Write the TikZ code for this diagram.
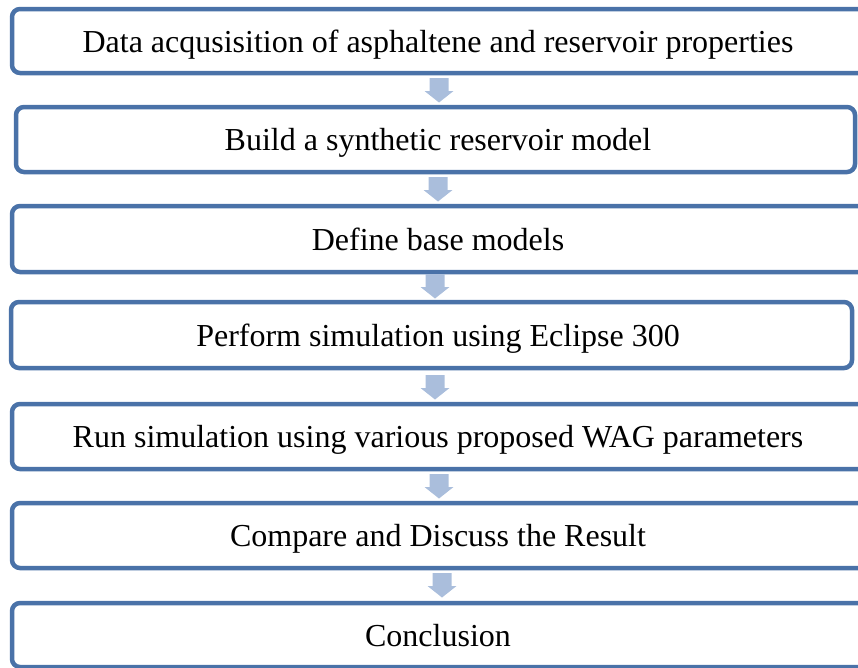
\documentclass[tikz,border=0pt]{standalone}
\usepackage{fontspec}
\setmainfont{Liberation Serif}
\definecolor{boxblue}{RGB}{74,114,168}
\definecolor{arrowblue}{RGB}{170,190,220}
\begin{document}
\begin{tikzpicture}[x=1pt,y=-1pt,
  stepbox/.style={draw=boxblue, line width=4.5pt, rounded corners=8pt, fill=white, inner sep=0pt},
  steptext/.style={font=\fontsize{32}{38}\selectfont, inner sep=0pt, anchor=base},
  downarrow/.style={fill=arrowblue, draw=none}]
\useasboundingbox (0,0) rectangle (858,667);
\clip (0,0) rectangle (858,667);
% boxes: left/right/top/bottom
\node[stepbox, minimum width=878pt, minimum height=64pt] (b1) at (451,41) {};
\node[stepbox, minimum width=839pt, minimum height=65pt] (b2) at (435.5,139.5) {};
\node[stepbox, minimum width=878pt, minimum height=66pt] (b3) at (451,239) {};
\node[stepbox, minimum width=841pt, minimum height=66pt] (b4) at (431.5,335) {};
\node[stepbox, minimum width=878pt, minimum height=65pt] (b5) at (451,436.5) {};
\node[stepbox, minimum width=878pt, minimum height=65pt] (b6) at (451,535.5) {};
\node[stepbox, minimum width=878pt, minimum height=64pt] (b7) at (451,635) {};
% texts
\node[steptext] (t1) at (438,52) {Data acqusisition of asphaltene and reservoir properties};
\node[steptext] (t2) at (438,150) {Build a synthetic reservoir model};
\node[steptext] (t3) at (438,250) {Define base models};
\node[steptext] (t4) at (438,346) {Perform simulation using Eclipse 300};
\node[steptext] (t5) at (438,447) {Run simulation using various proposed WAG parameters};
\node[steptext] (t6) at (438,546) {Compare and Discuss the Result};
\node[steptext] (t7) at (438,646) {Conclusion};
% block arrows (top of shaft coordinates)
\foreach \n/\x/\y in {a1/439/78, a2/438/177, a3/435/274, a4/435/375, a5/439/474, a6/442/573}{
  \coordinate (\n) at (\x,\y);
  \fill[downarrow] (\n) ++(-9.5,0) -- ++(19,0) -- ++(0,13) -- ++(5,0) -- ++(-14.5,11.5) -- ++(-14.5,-11.5) -- ++(5,0) -- cycle;
}
\end{tikzpicture}
\end{document}
